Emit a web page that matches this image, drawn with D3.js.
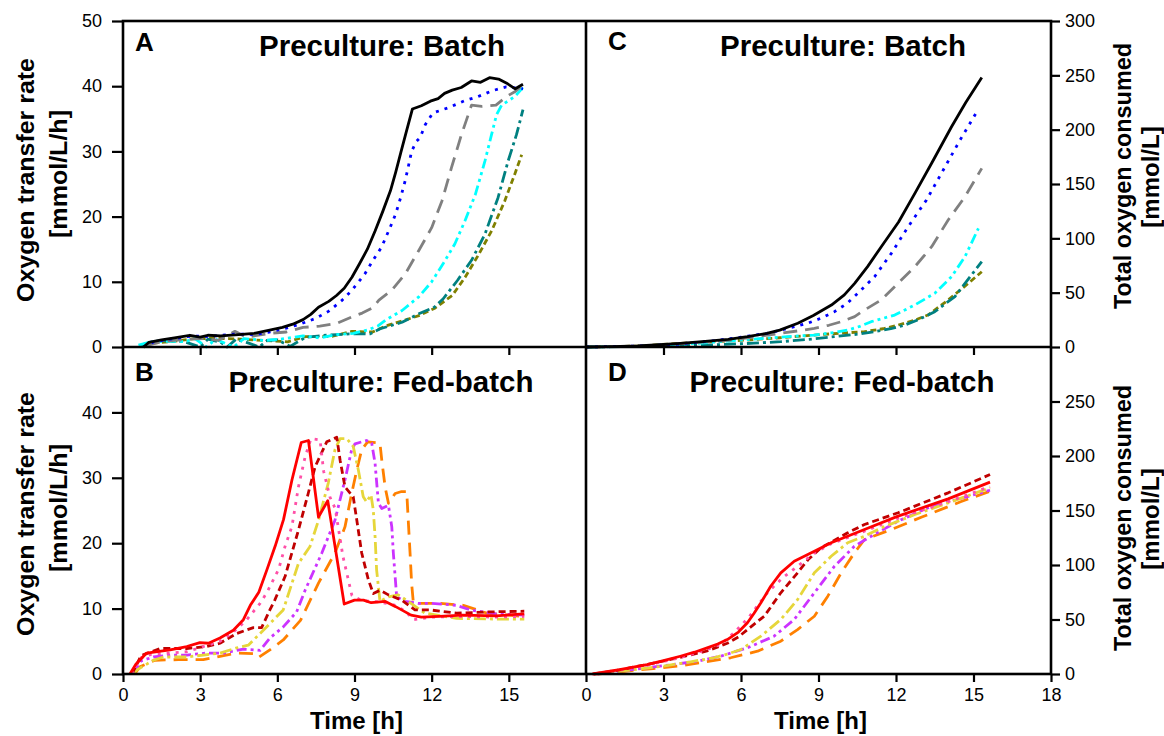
<!DOCTYPE html>
<html><head><meta charset="utf-8">
<script src="https://cdn.jsdelivr.net/npm/d3@7"></script>
<style>
html,body{margin:0;padding:0;background:#fff;}
svg text{font-family:"Liberation Sans",Arial,Helvetica,sans-serif;}
</style></head>
<body><svg id="c" width="1164" height="736"></svg>
<script>
// ---------- DATA ----------
const timeTicksLeft = [0,3,6,9,12,15];
const timeTicksRight = [0,3,6,9,12,15,18];
const otrTicksA = [0,10,20,30,40,50];
const otrTicksB = [0,10,20,30,40];
const totTicksC = [0,50,100,150,200,250,300];
const totTicksD = [0,50,100,150,200,250];

// Panel A: OTR, preculture batch  [time h, OTR mmol/L/h]
const A_black = [[0.8,0],[1.0,0.7],[1.5,1.1],[2.0,1.4],[2.6,1.8],[3.0,1.5],[3.3,1.8],[3.8,1.7],[4.5,1.9],[5.1,2.1],[5.7,2.6],[6.2,3.0],[6.6,3.5],[7.0,4.2],[7.3,5.0],[7.6,6.1],[8.0,7.0],[8.3,7.9],[8.6,9.0],[8.9,10.7],[9.2,12.8],[9.5,15.0],[9.8,17.8],[10.1,20.8],[10.4,24.0],[10.6,26.8],[10.8,29.8],[11.0,32.8],[11.25,36.5],[11.6,37.0],[11.95,37.7],[12.25,38.1],[12.5,38.9],[12.8,39.4],[13.15,39.8],[13.55,40.8],[13.9,40.6],[14.25,41.3],[14.6,41.1],[14.9,40.5],[15.25,39.6],[15.55,40.3]];
const A_blue = [[0.8,0],[1.2,0.8],[2.0,1.3],[2.7,1.7],[3.3,1.6],[4.4,2.0],[5.1,1.9],[5.7,2.3],[6.35,2.9],[6.95,3.6],[7.5,4.4],[8.0,5.5],[8.5,7.1],[8.9,8.7],[9.4,11.2],[9.75,13.5],[10.05,15.3],[10.35,18.0],[10.6,20.4],[10.8,23.0],[10.97,25.5],[11.1,27.8],[11.22,30.0],[11.4,31.5],[11.55,32.1],[11.75,34.1],[12.05,35.9],[12.65,36.7],[13.3,37.8],[13.8,38.4],[14.35,39.3],[14.9,39.9],[15.55,39.6]];
const A_gray = [[0.9,0.2],[1.5,0.8],[2.0,1.0],[2.6,1.2],[3.2,1.3],[3.7,1.0],[4.35,2.4],[4.8,1.5],[5.7,2.1],[6.35,2.3],[7.0,3.0],[7.65,3.2],[8.3,3.6],[8.95,4.7],[9.3,5.2],[9.7,6.0],[9.95,7.2],[10.45,8.7],[10.97,11.2],[11.5,14.8],[12.0,18.3],[12.4,22.4],[12.77,27.5],[13.16,32.6],[13.55,37.1],[13.95,36.9],[14.5,37.1],[14.9,38.4],[15.25,39.2],[15.5,40.0]];
const A_cyan = [[0.6,0.3],[1.1,0.8],[1.9,0.9],[2.4,0.8],[2.8,1.3],[3.25,0],[3.6,1.2],[4.3,0],[4.7,1.3],[5.5,1.0],[6.1,1.2],[7.0,1.7],[7.65,1.4],[8.3,1.9],[8.95,2.1],[9.5,2.6],[9.9,3.2],[10.2,4.1],[10.85,5.6],[11.5,7.7],[12.0,10.0],[12.45,12.8],[12.9,15.8],[13.3,19.4],[13.7,23.4],[14.07,28.5],[14.33,32.6],[14.52,35.6],[14.72,37.1],[15.23,38.4],[15.55,39.8]];
const A_teal = [[0.7,0.3],[1.2,0.9],[1.8,1.0],[2.4,0.8],[3.0,0],[3.3,1.2],[3.8,0.7],[4.05,0],[4.4,1.2],[4.8,0.7],[5.3,0],[5.6,1.0],[6.0,1.1],[6.5,0.1],[7.1,1.5],[7.9,1.8],[8.8,2.0],[9.6,2.0],[10.0,2.8],[10.85,3.8],[11.5,5.1],[12.1,6.1],[12.45,7.4],[13.0,10.2],[13.55,13.3],[14.07,17.3],[14.58,22.9],[14.97,28.5],[15.3,32.6],[15.55,36.4]];
const A_olive = [[0.8,0],[1.2,0.6],[1.8,0.8],[2.8,1.3],[4.1,1.3],[5.5,1.0],[6.4,0.8],[7.1,1.6],[8.1,1.6],[8.9,2.4],[9.7,2.3],[10.2,3.2],[10.85,4.0],[11.5,4.8],[12.1,5.9],[12.8,7.9],[13.3,10.7],[13.8,14.0],[14.33,17.8],[14.84,22.4],[15.23,26.5],[15.5,29.5]];

// Panel B: OTR, preculture fed-batch
const B_red = [[0.27,0],[0.5,1.5],[0.92,3.2],[1.83,3.7],[2.48,4.2],[2.99,4.8],[3.32,4.7],[3.77,5.5],[4.29,6.7],[4.68,8.3],[4.95,10.5],[5.28,12.5],[5.6,16.0],[5.92,19.6],[6.24,23.6],[6.57,29.7],[6.93,35.4],[7.21,35.7],[7.6,24.0],[7.96,26.5],[8.6,10.7],[9.0,11.3],[9.35,11.3],[9.65,10.9],[10.2,11.1],[10.6,10.3],[11.2,9.0],[11.6,8.7],[12.3,8.8],[13.2,9.0],[14.5,8.9],[15.6,9.2]];
const B_pink = [[0.35,0],[0.66,2.4],[1.1,3.0],[2.48,3.4],[3.77,5.0],[4.29,6.4],[4.81,8.3],[5.33,10.8],[5.6,12.5],[6.05,16.0],[6.3,19.5],[6.57,22.6],[6.82,28.6],[7.08,33.2],[7.31,36.0],[7.66,35.8],[7.8,31.0],[8.05,27.0],[8.25,25.3],[8.55,18.0],[8.9,12.0],[9.3,11.2],[10.0,11.0],[10.6,10.5],[11.0,9.5],[11.3,8.3],[12.0,8.7],[13.0,8.8],[14.5,8.7],[15.6,8.8]];
const B_darkred = [[0.35,0],[0.7,2.8],[1.44,3.9],[2.48,3.9],[3.25,4.2],[3.77,4.7],[4.42,6.2],[5.07,7.1],[5.39,7.1],[5.71,9.8],[5.9,11.3],[6.3,14.9],[6.82,22.0],[7.2,27.6],[7.47,31.7],[7.92,35.5],[8.31,36.2],[8.44,32.7],[8.63,28.6],[8.95,27.1],[9.09,23.5],[9.28,18.5],[9.54,14.4],[9.73,12.3],[9.99,12.8],[10.32,12.1],[10.83,11.3],[11.35,9.8],[11.94,9.8],[12.97,9.3],[14.27,9.5],[15.6,9.6]];
const B_yellow = [[0.4,0],[0.53,0.6],[1.18,2.1],[1.57,2.6],[2.48,2.6],[3.12,2.9],[3.77,3.2],[4.42,4.0],[4.87,4.4],[5.33,6.2],[5.71,7.7],[6.23,9.8],[6.82,16.9],[7.27,19.5],[7.6,23.5],[7.98,29.2],[8.24,34.3],[8.44,36.0],[8.7,36.0],[8.95,34.8],[9.15,31.2],[9.34,27.1],[9.47,26.3],[9.64,27.4],[9.73,25.1],[9.8,21.0],[9.86,15.9],[9.99,11.1],[10.32,11.8],[10.7,12.1],[11.09,11.1],[11.74,9.3],[12.97,8.5],[14.5,8.4],[15.6,8.4]];
const B_magenta = [[0.4,0],[0.7,2.0],[1.18,2.6],[1.83,2.9],[2.48,2.9],[3.25,3.2],[3.9,3.2],[4.68,3.8],[5.07,3.7],[5.33,3.6],[5.71,5.5],[6.23,7.2],[6.75,9.5],[7.08,12.8],[7.73,18.5],[8.24,23.5],[8.63,29.7],[8.89,34.3],[9.02,35.2],[9.47,35.7],[9.67,35.3],[9.8,32.2],[9.93,26.1],[10.06,25.3],[10.32,25.8],[10.45,22.5],[10.51,18.5],[10.58,14.9],[10.64,11.8],[10.96,11.1],[11.48,10.8],[12.0,10.8],[12.97,10.5],[13.5,9.8],[14.5,9.2],[15.6,9.0]];
const B_orange = [[0.45,0],[0.66,1.1],[1.24,2.1],[2.15,2.2],[3.12,2.2],[3.77,2.7],[4.42,3.2],[5.07,3.1],[5.26,2.5],[5.71,3.7],[6.23,5.2],[6.9,8.2],[7.6,13.9],[8.24,18.5],[8.63,22.5],[8.89,27.6],[9.09,31.2],[9.28,34.3],[9.51,35.5],[9.99,35.3],[10.06,32.7],[10.19,28.6],[10.32,26.1],[10.58,27.6],[10.83,27.9],[11.03,27.9],[11.09,23.5],[11.16,18.5],[11.22,13.9],[11.29,10.8],[12.32,10.8],[13.23,10.5],[13.62,10.0],[14.14,9.3],[15.6,8.8]];

// Panel C: total oxygen consumed, preculture batch  [time h, mmol/L]
const C_black = [[0,0],[1,0.3],[2,1],[3,2.3],[3.65,3.4],[4.5,5],[5.5,7],[6.25,9.5],[7,12.5],[7.5,15.5],[8.2,21.8],[8.8,29],[9.5,38.6],[10,48],[10.4,58.6],[10.9,74],[11.43,92.3],[12.1,115],[12.73,141.4],[13.4,170],[14.15,202.7],[14.7,225],[15.32,248]];
const C_blue = [[0,0],[2,0.8],[3.5,2.5],[4.95,5.8],[6,9],[7.02,12.6],[7.8,17],[8.58,21.8],[9.1,26.5],[9.62,32.5],[10.1,40],[10.52,49.4],[11.17,64.7],[11.82,86.2],[12.47,110.7],[13.18,135.3],[13.83,162.9],[14.48,190.5],[15.13,216.5]];
const C_gray = [[0,0],[2,0.7],[4,3.5],[5.6,6.4],[6.6,9.5],[7.54,12.6],[8.2,14.8],[8.84,17.2],[9.4,20],[9.88,23.3],[10.4,28],[10.78,34],[11.43,43.3],[12.08,58.6],[12.73,73.9],[13.38,92.3],[14.02,116.9],[14.67,138.3],[15.32,164.4]];
const C_cyan = [[0,0],[2,0.6],[4.3,3.4],[5.5,5.5],[6.9,8.0],[7.8,9.5],[8.84,11.0],[9.5,13],[10.14,15.6],[10.6,19],[11.04,23.3],[11.95,29.4],[12.73,38.7],[13.5,49.4],[14.15,64.7],[14.67,83.1],[15.19,109.2]];
const C_teal = [[0,0],[2,0.4],[4.95,2],[6.5,3.5],[7.54,4.9],[8.6,7],[9.62,9.5],[10.4,11.5],[11.17,14.1],[11.8,16.8],[12.34,20.2],[12.9,25.5],[13.5,32.5],[14.28,46.3],[14.87,64.7],[15.32,78.5]];
const C_olive = [[0,0],[2,0.8],[3.65,3.4],[5,5],[6.25,6.4],[7.5,8.5],[8.84,11.0],[9.8,12.6],[10.78,14.1],[11.5,16.8],[12.08,20.2],[12.7,24.5],[13.24,29.4],[14.02,43.3],[14.8,58.6],[15.32,69.3]];

// Panel D: total oxygen consumed, preculture fed-batch
const D_red = [[0.25,0],[1.3,4],[2.36,8.7],[3.0,12.2],[3.65,16.3],[4.2,20],[4.69,24.0],[5.1,27.5],[5.47,31.6],[5.9,38.5],[6.25,47],[6.5,55.5],[6.77,65.3],[7.15,80.5],[7.54,92.8],[8.06,103.5],[8.84,112.7],[9.49,120.4],[10.78,132.6],[12.08,144.8],[14.02,160.7],[15.64,176]];
const D_pink = [[0.3,0],[1.3,3.5],[2.36,8.0],[3.65,15.0],[4.69,22.5],[5.2,27],[5.73,37.8],[6.3,52],[7.02,74.5],[7.6,88],[8.19,98.9],[8.84,111],[9.49,119.5],[10.78,131],[12.08,143],[14.02,158],[15.64,172]];
const D_darkred = [[0.3,0],[1.3,3.8],[2.36,8.7],[3.65,15.3],[4.69,21.1],[5.47,28.2],[5.9,34],[6.25,40.8],[6.9,53],[7.54,74.5],[8.19,92.8],[8.6,105],[9.1,115.8],[10.13,129.5],[10.78,137.2],[12.08,147.9],[14.02,166.2],[15.64,183]];
const D_yellow = [[0.35,0],[1.5,3],[3.0,7.2],[4.0,11],[4.95,14.9],[5.5,18.5],[6.0,22.5],[6.77,34.7],[7.54,50],[8.19,68.3],[8.84,92.8],[9.49,108],[10.13,120.4],[10.78,126.4],[11.43,134.1],[12.73,146.3],[14.02,157],[15.64,170.8]];
const D_magenta = [[0.4,0],[1.3,2.5],[2.36,5.7],[3.3,8.5],[4.3,11.7],[5.21,16.3],[6.25,24],[7.28,34.7],[8.06,50],[8.84,74.5],[9.62,98.9],[10.39,117.2],[11.04,126.4],[12.08,140.2],[13.38,154],[14.5,161],[15.64,168.6]];
const D_orange = [[0.45,0],[1.5,2.5],[2.6,5],[3.65,7.5],[4.6,11],[5.6,14.9],[6.64,20.9],[7.54,30.1],[8.19,40.8],[8.84,53],[9.36,71.4],[9.88,92.8],[10.39,111.2],[10.78,123.4],[11.82,132.6],[13.0,144],[14.5,158],[15.64,167.7]];

// ---------- STYLES ----------
const styleBatch = [
  {color:"#000000", dash:null},
  {color:"#0000ff", dash:"3,6"},
  {color:"#808080", dash:"14,8"},
  {color:"#00ffff", dash:"10,4,3,4,3,4"},
  {color:"#008080", dash:"12,4,3,4"},
  {color:"#808000", dash:"6,3.5"}
];
const styleFed = [
  {color:"#ff0000", dash:null},
  {color:"#ff50a8", dash:"3,6"},
  {color:"#c00000", dash:"7,4"},
  {color:"#e6d63a", dash:"12,4,3,4"},
  {color:"#cc33ff", dash:"10,4,3,4,3,4"},
  {color:"#ff8000", dash:"14,8"}
];

const seriesA = [A_black, A_blue, A_gray, A_cyan, A_teal, A_olive];
const seriesB = [B_red, B_pink, B_darkred, B_yellow, B_magenta, B_orange];
const seriesC = [C_black, C_blue, C_gray, C_cyan, C_teal, C_olive];
const seriesD = [D_red, D_pink, D_darkred, D_yellow, D_magenta, D_orange];

// ---------- LAYOUT ----------
const L = 123, M = 586, R = 1051, T = 21, MID = 347, B = 674;
const svg = d3.select("#c");

const xL = d3.scaleLinear().domain([0,18]).range([L, M]);
const xR = d3.scaleLinear().domain([0,18]).range([M, R]);
const yA = d3.scaleLinear().domain([0,50]).range([MID, T]);
const yB = d3.scaleLinear().domain([0,50]).range([B, MID]);
const yC = d3.scaleLinear().domain([0,300]).range([MID, T]);
const yD = d3.scaleLinear().domain([0,300]).range([B, MID]);

function drawLines(series, styles, x, y) {
  const line = d3.line().x(d => x(d[0])).y(d => y(d[1]));
  const g = svg.append("g");
  series.map((s,i)=>({s, st:styles[i]})).reverse().forEach(({s, st}) => {
    g.append("path").attr("d", line(s))
      .attr("fill","none").attr("stroke", st.color)
      .attr("stroke-width", 2.8)
      .attr("stroke-dasharray", st.dash)
      .attr("stroke-linejoin","round");
  });
}
drawLines(seriesA, styleBatch, xL, yA);
drawLines(seriesB, styleFed, xL, yB);
drawLines(seriesC, styleBatch, xR, yC);
drawLines(seriesD, styleFed, xR, yD);

// ---------- AXES ----------
function styleAxis(g, fs) {
  g.select(".domain").remove();
  g.selectAll(".tick line").attr("stroke","#000").attr("stroke-width",2.2);
  g.selectAll(".tick text").attr("font-size", fs).attr("fill","#000")
    .attr("font-family",'"Liberation Sans",Arial,sans-serif');
}
const tfs = 18;
svg.append("g").attr("transform",`translate(${L},0)`)
  .call(d3.axisLeft(yA).tickValues(otrTicksA).tickSize(11).tickPadding(10))
  .call(g=>styleAxis(g,tfs));
svg.append("g").attr("transform",`translate(${L},0)`)
  .call(d3.axisLeft(yB).tickValues(otrTicksB).tickSize(11).tickPadding(10))
  .call(g=>styleAxis(g,tfs));
svg.append("g").attr("transform",`translate(${R},0)`)
  .call(d3.axisRight(yC).tickValues(totTicksC).tickSize(9).tickPadding(5))
  .call(g=>styleAxis(g,tfs));
svg.append("g").attr("transform",`translate(${R},0)`)
  .call(d3.axisRight(yD).tickValues(totTicksD).tickSize(9).tickPadding(5))
  .call(g=>styleAxis(g,tfs));
svg.append("g").attr("transform",`translate(0,${B})`)
  .call(d3.axisBottom(xL).tickValues(timeTicksLeft).tickSize(8).tickPadding(6))
  .call(g=>styleAxis(g,tfs));
svg.append("g").attr("transform",`translate(0,${B})`)
  .call(d3.axisBottom(xR).tickValues(timeTicksRight).tickSize(8).tickPadding(6))
  .call(g=>styleAxis(g,tfs));
svg.append("g").attr("transform",`translate(0,${MID})`)
  .call(d3.axisBottom(xL).tickValues(timeTicksLeft.slice(1)).tickSize(8).tickFormat(""))
  .call(g=>styleAxis(g,tfs));
svg.append("g").attr("transform",`translate(0,${MID})`)
  .call(d3.axisBottom(xR).tickValues(timeTicksRight.slice(1,6)).tickSize(8).tickFormat(""))
  .call(g=>styleAxis(g,tfs));

// ---------- FRAME ----------
const fr = svg.append("g").attr("stroke","#000").attr("stroke-width",2.6).attr("fill","none");
fr.append("rect").attr("x",L).attr("y",T).attr("width",R-L).attr("height",B-T);
fr.append("line").attr("x1",M).attr("x2",M).attr("y1",T).attr("y2",B);
fr.append("line").attr("x1",L).attr("x2",R).attr("y1",MID).attr("y2",MID);

// ---------- TEXT ----------
const bold = (x,y,txt,fs,anchor="middle") => svg.append("text").attr("x",x).attr("y",y)
  .attr("font-size",fs).attr("font-weight","bold").attr("text-anchor",anchor).attr("fill","#000").text(txt);

bold(135,51,"A",26,"start");
bold(135,381,"B",26,"start");
bold(608,50,"C",26,"start");
bold(608,381,"D",26,"start");
bold(382,56,"Preculture: Batch",29.5);
bold(381,392,"Preculture: Fed-batch",29.5);
bold(843,56,"Preculture: Batch",29.5);
bold(842,392,"Preculture: Fed-batch",29.5);

bold((L+M)/2+2,729,"Time [h]",24);
bold((M+R)/2+2,729,"Time [h]",24);

function vlabel(x,y,txt,fs,len){
  const t = svg.append("text").attr("transform",`translate(${x},${y}) rotate(-90)`)
    .attr("font-size",fs).attr("font-weight","bold").attr("text-anchor","middle")
    .attr("dominant-baseline","central").attr("fill","#000").text(txt);
  if (len) t.attr("textLength",len).attr("lengthAdjust","spacingAndGlyphs");
}
vlabel(25,180,"Oxygen transfer rate",24,244);
vlabel(58,174,"[mmol/L/h]",24,128);
vlabel(25,514,"Oxygen transfer rate",24,244);
vlabel(58,508,"[mmol/L/h]",24,128);
vlabel(1122,176,"Total oxygen consumed",24,266);
vlabel(1150,177,"[mmol/L]",24);
vlabel(1122,518,"Total oxygen consumed",24,266);
vlabel(1150,519,"[mmol/L]",24);
</script></body></html>
